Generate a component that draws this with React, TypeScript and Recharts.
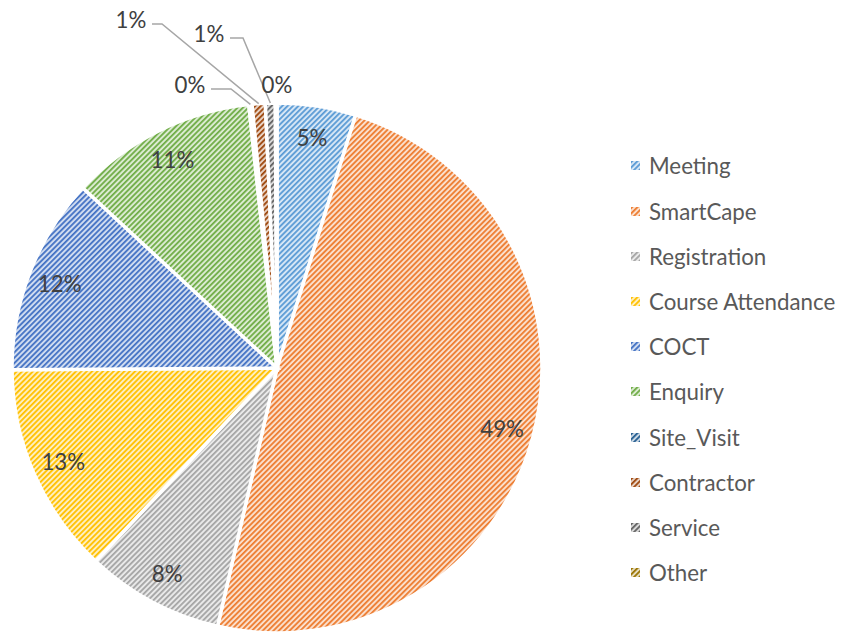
import { PieChart, Pie, Cell, Legend } from 'recharts';

// Contact reasons, share of total
const categories = [
  'Meeting',
  'SmartCape',
  'Registration',
  'Course Attendance',
  'COCT',
  'Enquiry',
  'Site_Visit',
  'Contractor',
  'Service',
  'Other',
];
const counts = [96, 976, 168, 258, 240, 228, 4, 16, 12, 2];
const colors = [
  '#5B9BD5',
  '#ED7D31',
  '#A5A5A5',
  '#FFC000',
  '#4472C4',
  '#70AD47',
  '#255E91',
  '#9E480E',
  '#636363',
  '#997300',
];

const data = categories.map((name, i) => ({ name, value: counts[i] }));

// small slices get their label outside, with a leader line
const OUTSIDE: Record<number, { dx: number; dy: number; lead: number }> = {
  6: { dx: -87, dy: -284, lead: 20 },
  7: { dx: -146, dy: -349, lead: 10 },
  8: { dx: -68, dy: -335, lead: 13 },
  9: { dx: 0, dy: -284, lead: 0 },
};

const FONT = 'Lato, "Open Sans", sans-serif';
const FONT_SIZE = 22.3;
const RAD = Math.PI / 180;

function tint(hex: string, k: number) {
  const n = parseInt(hex.slice(1), 16);
  const ch = [(n >> 16) & 255, (n >> 8) & 255, n & 255].map((v) =>
    Math.round(255 - k * (255 - v)),
  );
  return `rgb(${ch.join(',')})`;
}

function renderLabel(props: any) {
  const { cx, cy, midAngle, outerRadius, percent, index } = props;
  const text = `${Math.round(percent * 100)}%`;
  const out = OUTSIDE[index];
  const style = { fontFamily: FONT, fontSize: FONT_SIZE, fill: '#404040' };
  if (!out) {
    const r = outerRadius * 0.88;
    const x = cx + r * Math.cos(-midAngle * RAD);
    const y = cy + r * Math.sin(-midAngle * RAD);
    return (
      <text x={x} y={y} textAnchor="middle" dominantBaseline="central" style={style}>
        {text}
      </text>
    );
  }
  const tx = cx + out.dx;
  const ty = cy + out.dy;
  const ex = cx + outerRadius * Math.cos(-midAngle * RAD);
  const ey = cy + outerRadius * Math.sin(-midAngle * RAD);
  const sx = tx + 21;
  const sy = ty + 5;
  return (
    <g>
      {out.lead > 0 && (
        <polyline
          points={`${sx},${sy} ${sx + out.lead},${sy} ${ex},${ey}`}
          fill="none"
          stroke="#a6a6a6"
          strokeWidth={1.5}
        />
      )}
      <text x={tx} y={ty} textAnchor="middle" dominantBaseline="central" style={style}>
        {text}
      </text>
    </g>
  );
}

function LegendList() {
  return (
    <ul style={{ listStyle: 'none', margin: 0, padding: 0 }}>
      {categories.map((c, i) => (
        <li
          key={c}
          style={{
            display: 'flex',
            alignItems: 'center',
            height: 45.2,
            fontFamily: FONT,
            fontSize: FONT_SIZE,
            color: '#595959',
            whiteSpace: 'nowrap',
          }}
        >
          <svg width={9} height={9} style={{ marginRight: 9, flexShrink: 0 }}>
            <rect width={9} height={9} fill={`url(#hatch-${i})`} />
          </svg>
          <span>{c}</span>
        </li>
      ))}
    </ul>
  );
}

export default function App() {
  return (
    <div style={{ position: 'absolute', left: 0, top: 0, width: 853, height: 633, background: '#fff' }}>
      <PieChart width={853} height={633} margin={{ top: 0, right: 0, bottom: 0, left: 0 }}>
        <defs>
          {colors.map((c, i) => (
            <pattern
              key={c}
              id={`hatch-${i}`}
              patternUnits="userSpaceOnUse"
              width={3.8}
              height={3.8}
              patternTransform="rotate(45)"
            >
              <rect width={3.8} height={3.8} fill={tint(c, 0.25)} />
              <rect width={1.8} height={3.8} fill={c} />
            </pattern>
          ))}
        </defs>
        <Pie
          data={data}
          dataKey="value"
          nameKey="name"
          cx={277}
          cy={368}
          outerRadius={265}
          startAngle={90}
          endAngle={-270}
          stroke="#fff"
          strokeWidth={3.5}
          label={renderLabel}
          labelLine={false}
          isAnimationActive={false}
        >
          {data.map((d, i) => (
            <Cell key={d.name} fill={`url(#hatch-${i})`} />
          ))}
        </Pie>
        <Legend
          layout="vertical"
          align="right"
          verticalAlign="top"
          content={() => <LegendList />}
          wrapperStyle={{ position: 'absolute', left: 631, top: 143.4, width: 222 }}
        />
      </PieChart>
    </div>
  );
}
